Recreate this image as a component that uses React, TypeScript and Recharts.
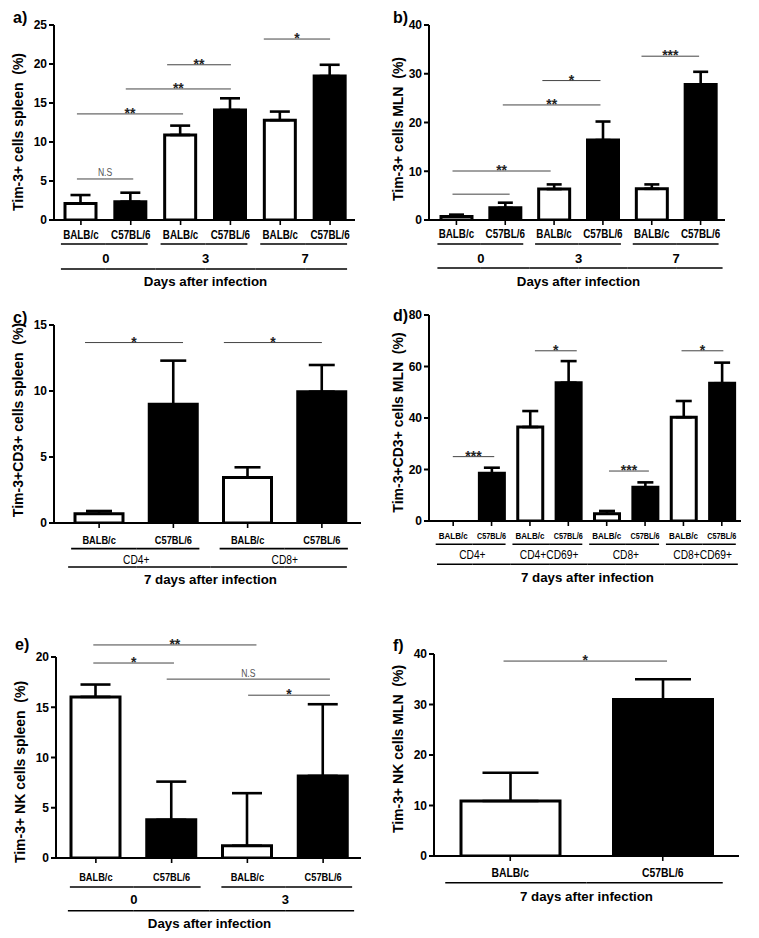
import React from 'react';
import { BarChart, Bar, XAxis, YAxis, ErrorBar, ReferenceLine, Cell } from 'recharts';

const FONT = "'Liberation Sans', Arial, Helvetica, sans-serif";
const NARROW_X = 0.82;

// ---------------- data ----------------
// a) Tim-3+ cells spleen
const aStrains = ['BALB/c', 'C57BL/6', 'BALB/c', 'C57BL/6', 'BALB/c', 'C57BL/6'];
const aGroups = ['0', '0', '3', '3', '7', '7'];
const aMeans = [2.1, 2.35, 10.9, 14.1, 12.8, 18.45];
const aErrors = [1.1, 1.15, 1.2, 1.5, 1.1, 1.45];
const aTicks = [0, 5, 10, 15, 20, 25];
// significance bars: from/to in category-band units, y in data units
const aSig = [
  { from: 0.42, to: 1.55, y: 5.26, text: 'N.S' },
  { from: 0.42, to: 2.55, y: 13.6, text: '**' },
  { from: 1.4, to: 3.51, y: 16.8, text: '**' },
  { from: 2.23, to: 3.51, y: 19.9, text: '**' },
  { from: 4.17, to: 5.5, y: 23.2, text: '*' },
];

// b) Tim-3+ cells MLN
const bStrains = ['BALB/c', 'C57BL/6', 'BALB/c', 'C57BL/6', 'BALB/c', 'C57BL/6'];
const bGroups = ['0', '0', '3', '3', '7', '7'];
const bMeans = [0.7, 2.5, 6.35, 16.4, 6.4, 27.8];
const bErrors = [0.4, 1.05, 0.95, 3.8, 0.9, 2.6];
const bTicks = [0, 10, 20, 30, 40];
const bSig = [
  { from: 0.42, to: 1.59, y: 5.3, text: '' },
  { from: 0.42, to: 2.43, y: 10.05, text: '**' },
  { from: 1.45, to: 3.45, y: 23.6, text: '**' },
  { from: 2.26, to: 3.45, y: 28.6, text: '*' },
  { from: 4.29, to: 5.47, y: 33.6, text: '***' },
];

// c) Tim-3+CD3+ cells spleen
const cStrains = ['BALB/c', 'C57BL/6', 'BALB/c', 'C57BL/6'];
const cGroups = ['CD4+', 'CD4+', 'CD8+', 'CD8+'];
const cMeans = [0.71, 8.99, 3.44, 9.95];
const cErrors = [0.2, 3.31, 0.78, 2.02];
const cTicks = [0, 5, 10, 15];
const cSig = [
  { from: 0.31, to: 1.63, y: 13.67, text: '*' },
  { from: 2.18, to: 3.5, y: 13.67, text: '*' },
];

// d) Tim-3+CD3+ cells MLN
const dStrains = ['BALB/c', 'C57BL/6', 'BALB/c', 'C57BL/6', 'BALB/c', 'C57BL/6', 'BALB/c', 'C57BL/6'];
const dGroups = ['CD4+', 'CD4+', 'CD4+CD69+', 'CD4+CD69+', 'CD8+', 'CD8+', 'CD8+CD69+', 'CD8+CD69+'];
const dMeans = [0, 18.5, 36.5, 53.7, 2.85, 13.1, 40.3, 53.5];
const dErrors = [0, 2.2, 6.2, 8.4, 1.05, 1.9, 6.3, 8.0];
const dTicks = [0, 20, 40, 60, 80];
const dSig = [
  { from: 0.49, to: 1.57, y: 25, text: '***' },
  { from: 2.63, to: 3.72, y: 66.1, text: '*' },
  { from: 4.56, to: 5.6, y: 19.4, text: '***' },
  { from: 6.45, to: 7.54, y: 66.1, text: '*' },
];

// e) Tim-3+ NK cells spleen
const eStrains = ['BALB/c', 'C57BL/6', 'BALB/c', 'C57BL/6'];
const eGroups = ['0', '0', '3', '3'];
const eMeans = [16.03, 3.8, 1.22, 8.17];
const eErrors = [1.23, 3.8, 5.23, 7.13];
const eTicks = [0, 5, 10, 15, 20];
const eSig = [
  { from: 0.466, to: 2.62, y: 21.2, text: '**' },
  { from: 0.466, to: 1.531, y: 19.4, text: '*' },
  { from: 1.435, to: 3.59, y: 17.8, text: 'N.S' },
  { from: 2.51, to: 3.59, y: 16.2, text: '*' },
];

// f) Tim-3+ NK cells MLN
const fStrains = ['BALB/c', 'C57BL/6'];
const fMeans = [10.9, 31.0];
const fErrors = [5.6, 4.0];
const fTicks = [0, 10, 20, 30, 40];
const fSig = [{ from: 0.456, to: 1.528, y: 38.6, text: '*' }];

// ---------------- rendering ----------------
type Sig = { from: number; to: number; y: number; text: string };
type AxisCfg = {
  labelDy: number; labelFont: number; labelLen?: number;
  underDy: number; underL: number; underR: number;
  groupDy: number; groupNarrow: boolean;
  longDy: number; longL: number; longR: number;
  titleDy: number;
};
type PanelDef = {
  left: number; top: number; width: number; height: number;
  margin: { top: number; right: number; bottom: number; left: number };
  yWidth: number; xHeight: number; pad: { left: number; right: number };
  strains: string[]; groups: string[] | null; means: number[]; errors: number[];
  yTicks: number[]; yLabel: string; yLabelX: number; yLabelY: number;
  sig: Sig[]; barSize: number; capHalf: number;
  letter: string; letterX: number; letterY: number;
  title: string; axis: AxisCfg;
};

function NarrowText(props: any) {
  const { x, y, sx, children, ...rest } = props;
  return (
    <text transform={`translate(${x} ${y}) scale(${sx} 1)`} x={0} y={0} {...rest}>
      {children}
    </text>
  );
}

function Panel({ p }: { p: PanelDef }) {
  const n = p.strains.length;
  const plotW = p.width - p.margin.left - p.margin.right - p.yWidth;
  const band = (plotW - p.pad.left - p.pad.right) / n;
  const rows = p.strains.map((s, i) => ({
    id: `${i}|${s}`,
    mean: p.means[i],
    err: [0, p.errors[i]],
    fill: s === 'BALB/c' ? '#ffffff' : '#000000',
  }));
  const c = p.axis;

  const renderTick = (props: any) => {
    const { x, y } = props;
    const i: number = props.index ?? props.payload?.index ?? 0;
    const ax = y - 5;
    const els: React.ReactNode[] = [];
    if (c.labelLen) {
      els.push(
        <text key="s" x={x} y={ax + c.labelDy} textAnchor="middle" fontFamily={FONT} fontWeight="bold"
          fontSize={c.labelFont} fill="#000" textLength={c.labelLen} lengthAdjust="spacingAndGlyphs">
          {p.strains[i]}
        </text>
      );
    } else {
      els.push(
        <NarrowText key="s" x={x} y={ax + c.labelDy} sx={NARROW_X} textAnchor="middle" fontFamily={FONT}
          fontWeight="bold" fontSize={c.labelFont} fill="#000">
          {p.strains[i]}
        </NarrowText>
      );
    }
    if (p.groups) {
      const g = p.groups;
      const prevSame = i > 0 && g[i - 1] === g[i];
      const nextSame = i < n - 1 && g[i + 1] === g[i];
      const x1 = prevSame ? x - band / 2 : x - c.underL;
      const x2 = nextSame ? x + band / 2 : x + c.underR;
      els.push(<line key="u" x1={x1} x2={x2} y1={ax + c.underDy} y2={ax + c.underDy} stroke="#000" strokeWidth={1.6} />);
      if (!prevSame) {
        let k = 1;
        while (i + k < n && g[i + k] === g[i]) k++;
        const gx = x + ((k - 1) * band) / 2;
        if (c.groupNarrow) {
          els.push(
            <NarrowText key="g" x={gx} y={ax + c.groupDy} sx={NARROW_X} textAnchor="middle" fontFamily={FONT}
              fontSize={12.5} fill="#000">
              {g[i]}
            </NarrowText>
          );
        } else {
          els.push(
            <text key="g" x={gx} y={ax + c.groupDy} textAnchor="middle" fontFamily={FONT} fontWeight="bold"
              fontSize={13} fill="#000">
              {g[i]}
            </text>
          );
        }
      }
    }
    const lx1 = i === 0 ? x - c.longL : x - band / 2;
    const lx2 = i === n - 1 ? x + c.longR : x + band / 2;
    els.push(<line key="l" x1={lx1} x2={lx2} y1={ax + c.longDy} y2={ax + c.longDy} stroke="#000" strokeWidth={1.6} />);
    if (i === 0) {
      els.push(
        <text key="t" x={x + ((n - 1) * band) / 2} y={ax + c.titleDy} textAnchor="middle" fontFamily={FONT}
          fontWeight="bold" fontSize={13.3} fill="#000">
          {p.title}
        </text>
      );
    }
    return <g>{els}</g>;
  };

  const renderYLabel = () => (
    <g>
      <text x={p.letterX} y={p.letterY} fontFamily={FONT} fontWeight="bold" fontSize={16} fill="#000">
        {p.letter}
      </text>
      <text x={p.yLabelX} y={p.yLabelY} transform={`rotate(-90 ${p.yLabelX} ${p.yLabelY})`} textAnchor="middle"
        dominantBaseline="central" fontFamily={FONT} fontWeight="bold" fontSize={14} fill="#000"
        style={{ whiteSpace: 'pre' }}>
        {p.yLabel}
      </text>
    </g>
  );

  // significance bar drawn from the category scale positions, with fractional band offsets
  const makeSigShape = (s: Sig, dl: number, dr: number) => (sp: any) => {
    const x1 = Number(sp.x1) + dl;
    const x2 = Number(sp.x2) + dr;
    const y = Number(sp.y1);
    if (!isFinite(x1) || !isFinite(x2) || !isFinite(y)) return <g />;
    const cx = (x1 + x2) / 2;
    return (
      <g>
        <line x1={x1} x2={x2} y1={y} y2={y} stroke="#444" strokeWidth={1} />
        {s.text === 'N.S' ? (
          <NarrowText x={cx} y={y - 2.5} sx={NARROW_X} textAnchor="middle" fontFamily={FONT} fontSize={10.5} fill="#555">
            {s.text}
          </NarrowText>
        ) : s.text ? (
          <text x={cx} y={y + 4} textAnchor="middle" fontFamily={FONT} fontWeight="bold" fontSize={14} fill="#222">
            {s.text}
          </text>
        ) : null}
      </g>
    );
  };

  const yMax = p.yTicks[p.yTicks.length - 1];

  return (
    <div style={{ position: 'absolute', left: p.left, top: p.top }}>
      <BarChart width={p.width} height={p.height} data={rows} margin={p.margin}>
        <XAxis dataKey="id" interval={0} tick={renderTick} tickSize={5} tickMargin={0} height={p.xHeight}
          axisLine={{ stroke: '#000', strokeWidth: 2 }} tickLine={{ stroke: '#000', strokeWidth: 1.6 }}
          padding={p.pad} />
        <YAxis domain={[0, yMax]} ticks={p.yTicks} interval={0} width={p.yWidth} tickSize={5} tickMargin={2}
          allowDataOverflow
          tick={{ fill: '#000', fontSize: 12, fontWeight: 700, fontFamily: FONT }}
          axisLine={{ stroke: '#000', strokeWidth: 2 }} tickLine={{ stroke: '#000', strokeWidth: 2 }}
          label={renderYLabel} />
        {p.sig.map((s, k) => {
          const k1 = Math.min(n - 1, Math.floor(s.from));
          const k2 = Math.min(n - 1, Math.floor(s.to));
          const dl = (s.from - (k1 + 0.5)) * band;
          const dr = (s.to - (k2 + 0.5)) * band;
          return (
            <ReferenceLine key={k} segment={[{ x: rows[k1].id, y: s.y }, { x: rows[k2].id, y: s.y }]}
              stroke="#444" strokeWidth={1} ifOverflow="visible" shape={makeSigShape(s, dl, dr)} />
          );
        })}
        <Bar dataKey="mean" barSize={p.barSize} stroke="#000" strokeWidth={3} isAnimationActive={false}>
          {rows.map((r, i) => (
            <Cell key={i} fill={r.fill} />
          ))}
          <ErrorBar dataKey="err" direction="y" width={p.capHalf} stroke="#000" strokeWidth={2.6} isAnimationActive={false} />
        </Bar>
      </BarChart>
    </div>
  );
}

const panels: PanelDef[] = [
  {
    left: 0, top: 0, width: 380, height: 300, margin: { top: 25, right: 25, bottom: 0, left: 0 },
    yWidth: 54, xHeight: 80, pad: { left: 2, right: 0 },
    strains: aStrains, groups: aGroups, means: aMeans, errors: aErrors, yTicks: aTicks,
    yLabel: 'Tim-3+ cells spleen  (%)', yLabelX: 18, yLabelY: 132, sig: aSig, barSize: 31, capHalf: 10,
    letter: 'a)', letterX: 13, letterY: 23, title: 'Days after infection',
    axis: { labelDy: 19, labelFont: 12, underDy: 24, underL: 20, underR: 17, groupDy: 43, groupNarrow: false,
      longDy: 49, longL: 20, longR: 17, titleDy: 66 },
  },
  {
    left: 380, top: 0, width: 379, height: 300, margin: { top: 25, right: 34, bottom: 0, left: 0 },
    yWidth: 49, xHeight: 80, pad: { left: 3, right: 0 },
    strains: bStrains, groups: bGroups, means: bMeans, errors: bErrors, yTicks: bTicks,
    yLabel: 'Tim-3+ cells MLN  (%)', yLabelX: 18, yLabelY: 129, sig: bSig, barSize: 31, capHalf: 7.5,
    letter: 'b)', letterX: 13, letterY: 23, title: 'Days after infection',
    axis: { labelDy: 18, labelFont: 12, underDy: 24, underL: 19, underR: 18, groupDy: 43, groupNarrow: false,
      longDy: 48, longL: 19, longR: 22, titleDy: 66 },
  },
  {
    left: 0, top: 300, width: 380, height: 300, margin: { top: 25, right: 19, bottom: 0, left: 0 },
    yWidth: 54, xHeight: 77, pad: { left: 8, right: 2 },
    strains: cStrains, groups: cGroups, means: cMeans, errors: cErrors, yTicks: cTicks,
    yLabel: 'Tim-3+CD3+ cells spleen  (%)', yLabelX: 18, yLabelY: 120, sig: cSig, barSize: 48, capHalf: 13,
    letter: 'c)', letterX: 13, letterY: 23, title: '7 days after infection',
    axis: { labelDy: 20.6, labelFont: 11.3, underDy: 25.6, underL: 28, underR: 26, groupDy: 40.6, groupNarrow: true,
      longDy: 44, longL: 31, longR: 25, titleDy: 60.6 },
  },
  {
    left: 380, top: 300, width: 379, height: 300, margin: { top: 15, right: 18, bottom: 0, left: 0 },
    yWidth: 49, xHeight: 79, pad: { left: 5, right: 0 },
    strains: dStrains, groups: dGroups, means: dMeans, errors: dErrors, yTicks: dTicks,
    yLabel: 'Tim-3+CD3+ cells MLN  (%)', yLabelX: 18, yLabelY: 122.5, sig: dSig, barSize: 25, capHalf: 8,
    letter: 'd)', letterX: 13, letterY: 21, title: '7 days after infection',
    axis: { labelDy: 18, labelFont: 9.6, labelLen: 29, underDy: 23.3, underL: 17.5, underR: 14, groupDy: 38.3,
      groupNarrow: true, longDy: 43.3, longL: 16.2, longR: 16, titleDy: 60.7 },
  },
  {
    left: 0, top: 600, width: 380, height: 338, margin: { top: 57, right: 19, bottom: 0, left: 0 },
    yWidth: 56, xHeight: 80, pad: { left: 2, right: 0 },
    strains: eStrains, groups: eGroups, means: eMeans, errors: eErrors, yTicks: eTicks,
    yLabel: 'Tim-3+ NK cells spleen  (%)', yLabelX: 20, yLabelY: 172, sig: eSig, barSize: 49, capHalf: 15,
    letter: 'e)', letterX: 15, letterY: 50, title: 'Days after infection',
    axis: { labelDy: 22.7, labelFont: 11.3, underDy: 29, underL: 26, underR: 29, groupDy: 45.7, groupNarrow: false,
      longDy: 52.7, longL: 28, longR: 31, titleDy: 70 },
  },
  {
    left: 380, top: 600, width: 379, height: 338, margin: { top: 54, right: 20, bottom: 0, left: 0 },
    yWidth: 54, xHeight: 82, pad: { left: 0, right: 0 },
    strains: fStrains, groups: null, means: fMeans, errors: fErrors, yTicks: fTicks,
    yLabel: 'Tim-3+ NK cells MLN  (%)', yLabelX: 18, yLabelY: 149, sig: fSig, barSize: 99, capHalf: 28,
    letter: 'f)', letterX: 13, letterY: 51, title: '7 days after infection',
    axis: { labelDy: 21.3, labelFont: 12.7, underDy: 0, underL: 0, underR: 0, groupDy: 0, groupNarrow: false,
      longDy: 26.7, longL: 65, longR: 60, titleDy: 44.7 },
  },
];

export default function App() {
  return (
    <div style={{ position: 'absolute', left: 0, top: 0, width: 759, height: 938, background: '#fff', overflow: 'hidden' }}>
      {panels.map((p, i) => (
        <Panel key={i} p={p} />
      ))}
    </div>
  );
}
